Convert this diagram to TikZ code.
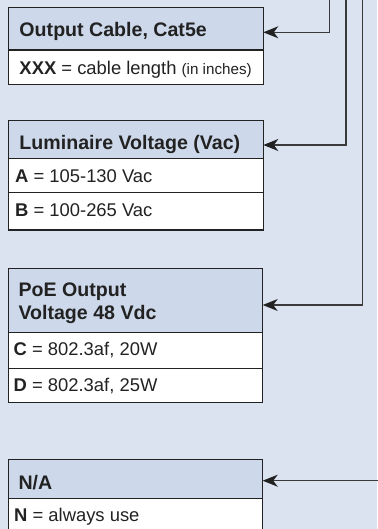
\documentclass[tikz,border=0pt]{standalone}
\usepackage{fontspec}
\setmainfont{Liberation Sans}
\usetikzlibrary{arrows.meta}
\definecolor{bgc}{HTML}{DCE3F0}
\definecolor{hdc}{HTML}{CDD9EA}
\definecolor{ink}{HTML}{222222}
\definecolor{wire}{HTML}{3A3A3A}
\begin{document}
\begin{tikzpicture}[x=1pt,y=-1pt,
  boxpart/.style={draw=ink, line width=1.2pt, inner sep=0pt, outer sep=0pt},
  hdr/.style={boxpart, fill=hdc},
  rowc/.style={boxpart, fill=white},
  htext/.style={anchor=base west, inner sep=0pt, text=ink, font=\fontsize{19.6}{23}\selectfont\bfseries},
  btext/.style={anchor=base west, inner sep=0pt, text=ink, font=\fontsize{18.4}{22}\selectfont},
  conn/.style={draw=wire, line width=1.2pt, -{Stealth[length=15pt,width=12pt,inset=4.5pt,color=ink]}}
]
\useasboundingbox (0,0) rectangle (377,529);
\fill[bgc] (0,0) rectangle (377,529);

% Box 1
\node[hdr, minimum width=255pt, minimum height=42.7pt, anchor=north west] (h1) at (8.3,7.3) {};
\node[rowc, minimum width=255pt, minimum height=34.3pt, anchor=north west] (r1) at (8.3,50) {};
\node[htext] (t1) at (19.3,36.7) {Output Cable, Cat5e};
\node[btext] (b1) at (19.3,75) {\textbf{XXX} = cable length {\fontsize{15.2}{18}\selectfont(in inches)}};

% Box 2
\node[hdr, minimum width=255pt, minimum height=37.6pt, anchor=north west] (h2) at (8.3,120.7) {};
\node[rowc, minimum width=255pt, minimum height=34pt, anchor=north west] (r2a) at (8.3,158.3) {};
\node[rowc, minimum width=255pt, minimum height=37.7pt, anchor=north west] (r2b) at (8.3,192.3) {};
\node[htext] (t2) at (19.3,149.3) {Luminaire Voltage (Vac)};
\node[btext] (b2a) at (15,182.3) {\textbf{A} = 105-130 Vac};
\node[btext] (b2b) at (15,216) {\textbf{B} = 100-265 Vac};

% Box 3
\node[hdr, minimum width=254.4pt, minimum height=64pt, anchor=north west] (h3) at (8.3,268.3) {};
\node[rowc, minimum width=254.4pt, minimum height=36pt, anchor=north west] (r3a) at (8.3,332.3) {};
\node[rowc, minimum width=254.4pt, minimum height=34pt, anchor=north west] (r3b) at (8.3,368.3) {};
\node[htext] (t3a) at (18.3,296) {PoE Output};
\node[htext] (t3b) at (18.3,319.3) {Voltage 48 Vdc};
\node[btext] (b3a) at (13.5,355) {\textbf{C} = 802.3af, 20W};
\node[btext] (b3b) at (13.5,391.7) {\textbf{D} = 802.3af, 25W};

% Box 4
\node[hdr, minimum width=254.4pt, minimum height=39pt, anchor=north west] (h4) at (8.3,459.3) {};
\node[rowc, minimum width=254.4pt, minimum height=40pt, anchor=north west] (r4) at (8.3,498.3) {};
\node[htext] (t4) at (18.3,489) {N/A};
\node[btext] (b4) at (14,521.7) {\textbf{N} = always use};

% Connectors
\coordinate (s1) at (329.3,-2);
\coordinate (k1) at (329.3,32.3);
\coordinate (s2) at (346,-2);
\coordinate (k2) at (346,145);
\coordinate (s3) at (362.5,-2);
\coordinate (k3) at (362.5,305);
\coordinate (s4) at (379,480.7);

\draw[conn] (s1) -- (k1) -- (h1.east |- k1);
\draw[conn] (s2) -- (k2) -- (h2.east |- k2);
\draw[conn] (s3) -- (k3) -- (h3.east |- k3);
\draw[conn] (s4) -- (h4.east |- s4);
\end{tikzpicture}
\end{document}
